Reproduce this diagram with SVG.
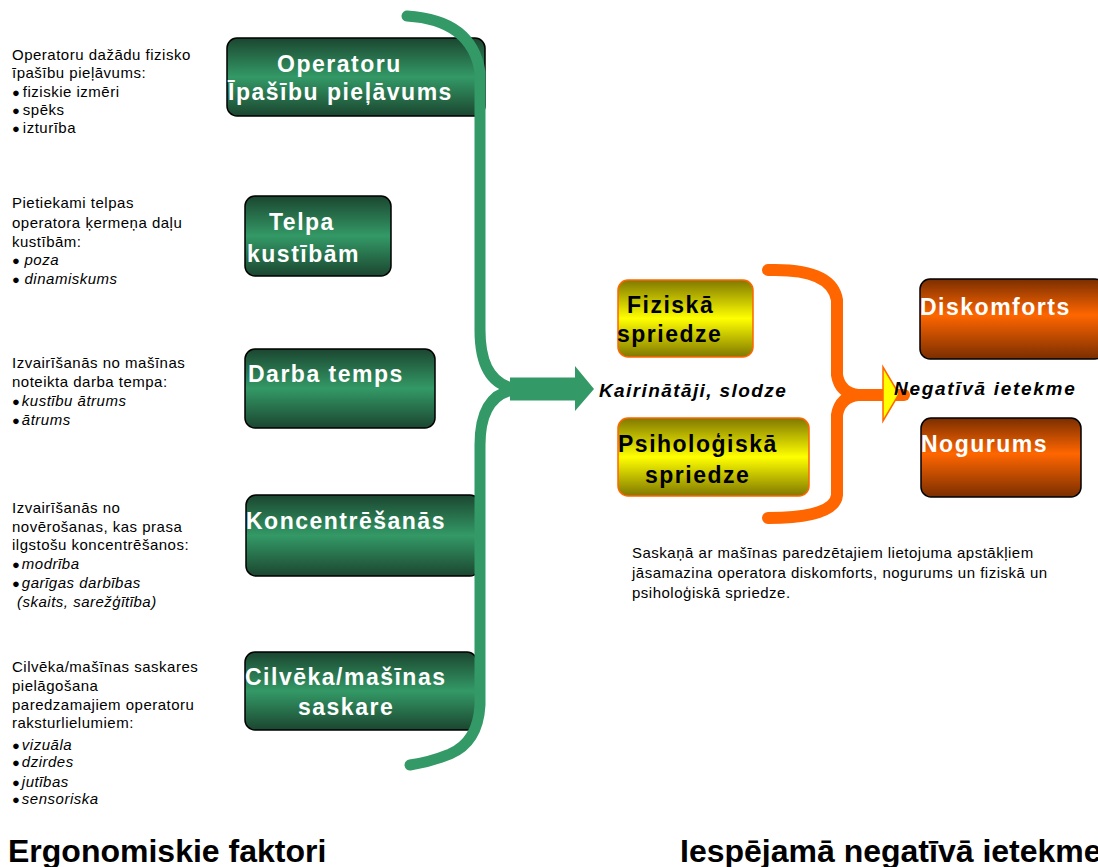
<svg xmlns="http://www.w3.org/2000/svg" width="1098" height="867" viewBox="0 0 1098 867">
<defs>
<linearGradient id="gG" x1="0" y1="0" x2="0" y2="1">
<stop offset="0" stop-color="#1b4630"/><stop offset="0.5" stop-color="#339966"/><stop offset="1" stop-color="#1b4630"/>
</linearGradient>
<linearGradient id="gY" x1="0" y1="0" x2="0" y2="1">
<stop offset="0" stop-color="#807800"/><stop offset="0.5" stop-color="#ffff00"/><stop offset="1" stop-color="#807800"/>
</linearGradient>
<linearGradient id="gB" x1="0" y1="0" x2="0" y2="1">
<stop offset="0" stop-color="#7a2e00"/><stop offset="0.45" stop-color="#ff6600"/><stop offset="1" stop-color="#7a2e00"/>
</linearGradient>
<style>
.t{font-family:"Liberation Sans",Arial,sans-serif;font-size:15px;letter-spacing:0.5px;fill:#000}
.i{font-style:italic}
.b{font-size:13px;letter-spacing:0;font-style:normal}
.gb{fill:url(#gG);stroke:#000;stroke-width:1.5}
.yb{fill:url(#gY);stroke:#ff6600;stroke-width:1.5}
.ob{fill:url(#gB);stroke:#000;stroke-width:1.5}
.bw{font-family:"Liberation Sans",Arial,sans-serif;font-weight:bold;font-size:23px;letter-spacing:1.5px;fill:#fff}
.bk{font-family:"Liberation Sans",Arial,sans-serif;font-weight:bold;font-size:23px;letter-spacing:1.5px;fill:#000}
.lab{font-family:"Liberation Sans",Arial,sans-serif;font-weight:bold;font-style:italic;font-size:19px;letter-spacing:1.4px;fill:#000}
.ttl{font-family:"Liberation Sans",Arial,sans-serif;font-weight:bold;font-size:32px;fill:#000}
.gs{fill:none;stroke:#339966;stroke-width:11;stroke-linecap:round;stroke-linejoin:round}
.os{fill:none;stroke:#ff6600;stroke-width:12;stroke-linecap:round;stroke-linejoin:round}
</style>
</defs>
<rect width="1098" height="867" fill="#fff"/>

<g id="desc-operatoru">
<text class="t" x="12" y="60">Operatoru dažādu fizisko</text>
<text class="t" x="12" y="78">īpašību pieļāvums:</text>
<text class="t" x="12" y="97"><tspan class="b">●</tspan><tspan dx="3">fiziskie izmēri</tspan></text>
<text class="t" x="12" y="115"><tspan class="b">●</tspan><tspan dx="3">spēks</tspan></text>
<text class="t" x="12" y="133"><tspan class="b">●</tspan><tspan dx="3">izturība</tspan></text>
</g>
<g id="desc-telpa">
<text class="t" x="12" y="208">Pietiekami telpas</text>
<text class="t" x="12" y="228">operatora ķermeņa daļu</text>
<text class="t" x="12" y="247">kustībām:</text>
<text class="t i" x="12" y="265"><tspan class="b">●</tspan> poza</text>
<text class="t i" x="12" y="284"><tspan class="b">●</tspan> dinamiskums</text>
</g>
<g id="desc-darba">
<text class="t" x="12" y="368">Izvairīšanās no mašīnas</text>
<text class="t" x="12" y="387">noteikta darba tempa:</text>
<text class="t i" x="12" y="406"><tspan class="b">●</tspan><tspan dx="2">kustību ātrums</tspan></text>
<text class="t i" x="12" y="425"><tspan class="b">●</tspan><tspan dx="2">ātrums</tspan></text>
</g>
<g id="desc-konc">
<text class="t" x="12" y="513">Izvairīšanās no</text>
<text class="t" x="12" y="532">novērošanas, kas prasa</text>
<text class="t" x="12" y="550">ilgstošu koncentrēšanos:</text>
<text class="t i" x="12" y="569"><tspan class="b">●</tspan><tspan dx="2">modrība</tspan></text>
<text class="t i" x="12" y="588"><tspan class="b">●</tspan><tspan dx="2">garīgas darbības</tspan></text>
<text class="t i" x="17" y="607">(skaits, sarežģītība)</text>
</g>
<g id="desc-cilv">
<text class="t" x="12" y="672">Cilvēka/mašīnas saskares</text>
<text class="t" x="12" y="691">pielāgošana</text>
<text class="t" x="12" y="710">paredzamajiem operatoru</text>
<text class="t" x="12" y="728">raksturlielumiem:</text>
<text class="t i" x="12" y="750"><tspan class="b">●</tspan><tspan dx="2">vizuāla</tspan></text>
<text class="t i" x="12" y="767"><tspan class="b">●</tspan><tspan dx="2">dzirdes</tspan></text>
<text class="t i" x="12" y="787"><tspan class="b">●</tspan><tspan dx="2">jutības</tspan></text>
<text class="t i" x="12" y="804"><tspan class="b">●</tspan><tspan dx="2">sensoriska</tspan></text>
</g>

<g id="node-operatoru">
<rect class="gb" x="227" y="38" width="258" height="78" rx="10"/>
<text class="bw" x="277" y="72">Operatoru</text>
<text class="bw" x="228" y="100">Īpašību pieļāvums</text>
</g>
<g id="node-telpa">
<rect class="gb" x="245" y="196" width="146" height="80" rx="10"/>
<text class="bw" x="269" y="230">Telpa</text>
<text class="bw" x="247" y="262">kustībām</text>
</g>
<g id="node-darba">
<rect class="gb" x="245" y="349" width="190" height="79" rx="10"/>
<text class="bw" x="248" y="382">Darba temps</text>
</g>
<g id="node-konc">
<rect class="gb" x="246" y="495" width="234" height="81" rx="10"/>
<text class="bw" x="246" y="529">Koncentrēšanās</text>
</g>
<g id="node-cilv">
<rect class="gb" x="245" y="652" width="232" height="78" rx="10"/>
<text class="bw" x="245" y="685">Cilvēka/mašīnas</text>
<text class="bw" x="298" y="715">saskare</text>
</g>

<g id="connectors">
<path class="gs" d="M407 16 Q472 20 480 72 L480 330 Q480 386 519 389"/>
<path class="gs" d="M519 389 Q480 392 480 445 L480 705 Q478 742 450 754 Q430 762 410 765"/>
<path d="M510 377.5 L575 377.5 L575 366 L594 389 L575 411 L575 400.5 L510 400.5 Z" fill="#339966"/>
<path class="os" d="M768 270 Q832 268 837 300 L837 375 Q840 393 858 395"/>
<path class="os" d="M858 395 Q840 397 837 415 L837 495 Q835 518 768 518"/>
<path class="os" d="M850 395 L904 395"/>
<polygon points="883,367 883,421 899,394" fill="#ffff00" stroke="#ff6600" stroke-width="1.5"/>
</g>

<g id="node-fizis">
<rect class="yb" x="618" y="280" width="135" height="77" rx="10"/>
<text class="bk" x="627" y="313">Fiziskā</text>
<text class="bk" x="617" y="342">spriedze</text>
</g>
<g id="node-psih">
<rect class="yb" x="618" y="418" width="191" height="78" rx="10"/>
<text class="bk" x="618" y="452">Psiholoģiskā</text>
<text class="bk" x="645" y="483">spriedze</text>
</g>
<g id="node-disk">
<rect class="ob" x="920" y="279" width="185" height="80" rx="10"/>
<text class="bw" x="920" y="315">Diskomforts</text>
</g>
<g id="node-nog">
<rect class="ob" x="921" y="418" width="160" height="79" rx="10"/>
<text class="bw" x="921" y="452">Nogurums</text>
</g>

<g id="labels">
<text class="lab" x="599" y="397">Kairinātāji, slodze</text>
<text class="lab" x="894" y="395" style="letter-spacing:1.7px">Negatīvā ietekme</text>
<text class="t" x="632" y="558">Saskaņā ar mašīnas paredzētajiem lietojuma apstākļiem</text>
<text class="t" x="632" y="578">jāsamazina operatora diskomforts, nogurums un fiziskā un</text>
<text class="t" x="632" y="598">psiholoģiskā spriedze.</text>
<text class="ttl" x="8" y="862">Ergonomiskie faktori</text>
<text class="ttl" x="680" y="862">Iespējamā negatīvā ietekme</text>
</g>
</svg>
